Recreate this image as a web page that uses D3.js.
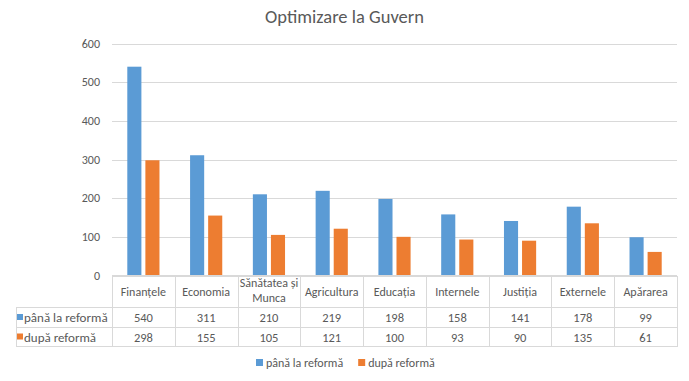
<!DOCTYPE html>
<html>
<head>
<meta charset="utf-8">
<script src="https://cdn.jsdelivr.net/npm/d3@7"></script>
<style>
  body { margin: 0; background: #fff; }
  text { font-family: Calibri, Carlito, "Open Sans", "Noto Sans", sans-serif; fill: #595959; }
</style>
</head>
<body>
<svg width="689" height="381"></svg>
<script>
const categories = ['Finanțele', 'Economia', 'Sănătatea și Munca', 'Agricultura', 'Educația', 'Internele', 'Justiția', 'Externele', 'Apărarea'];
const seriesNames = ['până la reformă', 'după reformă'];
const inainte = [540, 311, 210, 219, 198, 158, 141, 178, 99];
const dupa = [298, 155, 105, 121, 100, 93, 90, 135, 61];
const yTicks = [0, 100, 200, 300, 400, 500, 600];
const colors = ['#5B9BD5', '#ED7D31'];

const svg = d3.select('svg'),
    width = +svg.attr('width'),
    height = +svg.attr('height');

const plotLeft = 112, plotRight = 677, plotTop = 43.5, plotBottom = 275.5;
const rows = [inainte, dupa];

// title
svg.append('text').attr('x', width / 2).attr('y', 23).attr('text-anchor', 'middle')
    .style('font-size', '18.5px').text('Optimizare la Guvern');

const x = d3.scaleBand().domain(categories).range([plotLeft, plotRight]);
const x1 = d3.scaleBand().domain(seriesNames).range([15.3, x.bandwidth() - 15.3]).paddingInner(0.22);
const y = d3.scaleLinear().domain([0, 600]).range([plotBottom, plotTop]);

// gridlines
svg.append('g').selectAll('line').data(yTicks).enter().append('line')
    .attr('x1', plotLeft).attr('x2', plotRight)
    .attr('y1', d => Math.round(y(d)) + 0.5).attr('y2', d => Math.round(y(d)) + 0.5)
    .attr('stroke', '#d9d9d9');

// y labels
svg.append('g').selectAll('text').data(yTicks).enter().append('text')
    .attr('x', 100).attr('y', d => y(d) + 4).attr('text-anchor', 'end')
    .style('font-size', '12px').text(d => d);

// bars
const groups = svg.append('g').selectAll('g').data(categories).enter().append('g')
    .attr('transform', d => `translate(${x(d)},0)`);
groups.selectAll('rect').data((d, i) => rows.map((r, s) => ({ s: seriesNames[s], v: r[i], c: colors[s] })))
    .enter().append('rect')
    .attr('x', d => x1(d.s)).attr('width', x1.bandwidth())
    .attr('y', d => y(d.v)).attr('height', d => plotBottom - y(d.v))
    .attr('fill', d => d.c);

// data table
const rowY = [plotBottom, 307.5, 327.5, 346.5];
const tableLeft = 16;
const grid = svg.append('g').attr('stroke', '#d9d9d9').attr('shape-rendering', 'crispEdges');
// horizontal lines
grid.append('line').attr('x1', plotLeft).attr('x2', plotRight).attr('y1', rowY[0]).attr('y2', rowY[0]);
rowY.slice(1).forEach(yy => {
  grid.append('line').attr('x1', tableLeft).attr('x2', plotRight).attr('y1', yy).attr('y2', yy);
});
// vertical lines
const xs = categories.map(c => x(c)).concat([plotRight]);
xs.forEach(xx => {
  grid.append('line').attr('x1', Math.round(xx) + 0.5).attr('x2', Math.round(xx) + 0.5).attr('y1', rowY[0]).attr('y2', rowY[3]);
});
grid.append('line').attr('x1', tableLeft + 0.5).attr('x2', tableLeft + 0.5).attr('y1', rowY[1]).attr('y2', rowY[3]);

// header labels
const hdr = svg.append('g').selectAll('text').data(categories).enter().append('text')
    .attr('x', d => x(d) + x.bandwidth() / 2).attr('text-anchor', 'middle')
    .style('font-size', '12px');
hdr.each(function(d) {
  const t = d3.select(this);
  const w = x.bandwidth() - 4;
  t.text(d);
  if (this.getComputedTextLength() > w) {
    const words = d.split(' ');
    const l1 = words.slice(0, -1).join(' '), l2 = words[words.length - 1];
    t.text(null);
    t.append('tspan').attr('x', x(d) + x.bandwidth() / 2).attr('y', 287).text(l1);
    t.append('tspan').attr('x', x(d) + x.bandwidth() / 2).attr('y', 302).text(l2);
  } else {
    t.attr('y', (rowY[0] + rowY[1]) / 2 + 4);
  }
});

// series rows
rows.forEach((r, s) => {
  const cy = (rowY[s + 1] + rowY[s + 2]) / 2;
  svg.append('rect').attr('x', 17).attr('y', cy - 3.5).attr('width', 6).attr('height', 6).attr('fill', colors[s]);
  svg.append('text').attr('x', 24).attr('y', cy + 4.5).style('font-size', '13px').text(seriesNames[s]);
  svg.append('g').selectAll('text').data(r).enter().append('text')
      .attr('x', (d, i) => x(categories[i]) + x.bandwidth() / 2).attr('y', cy + 4.5)
      .attr('text-anchor', 'middle').style('font-size', '12.5px').text(d => d);
});

// legend
const legend = svg.append('g');
let lx = 256;
seriesNames.forEach((n, s) => {
  legend.append('rect').attr('x', lx).attr('y', 359).attr('width', 7).attr('height', 7).attr('fill', colors[s]);
  const t = legend.append('text').attr('x', lx + 10).attr('y', 367).style('font-size', '12px').text(n);
  lx += 10 + t.node().getComputedTextLength() + 15;
});
</script>
</body>
</html>
